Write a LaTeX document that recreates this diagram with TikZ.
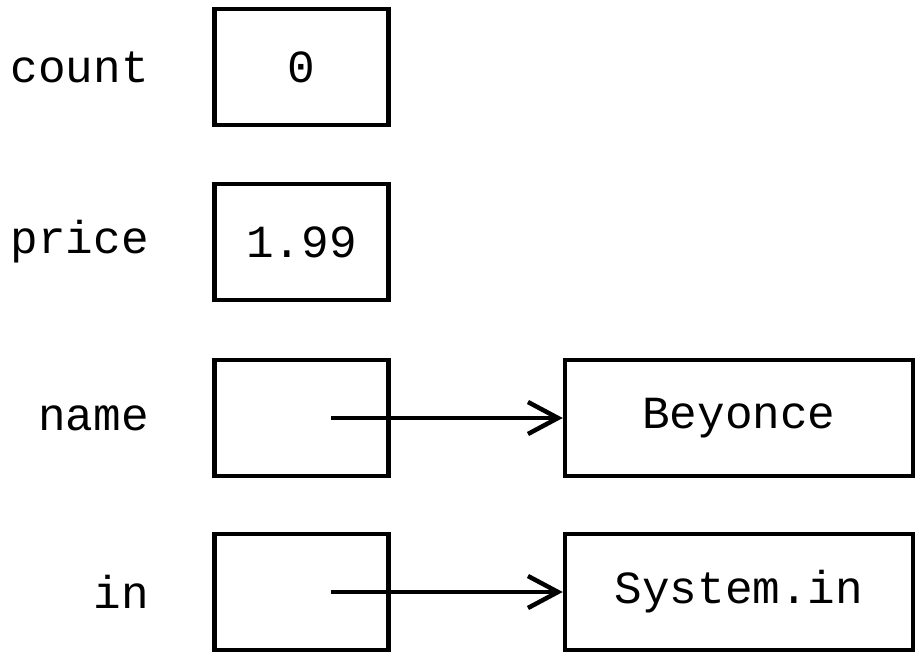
\documentclass[tikz,border=0pt]{standalone}
\usepackage{fontspec}
\setmonofont{Liberation Mono}
\usetikzlibrary{arrows.meta}
\tikzset{
  varbox/.style={draw=black, line width=4.5pt, minimum width=174pt, minimum height=116pt, inner sep=0pt, font=\ttfamily\fontsize{46}{52}\selectfont},
  objbox/.style={varbox, minimum width=348pt},
  varlabel/.style={anchor=east, inner sep=0pt, font=\ttfamily\fontsize{46}{52}\selectfont},
  ref/.style={line width=4.5pt, -{Straight Barb[length=30pt, width=32pt, line width=4.5pt]}}
}
\begin{document}
\begin{tikzpicture}[x=1pt, y=-1pt]
\useasboundingbox (0,0) rectangle (918,653);
\node[varlabel] (lcount) at (149,67) {count};
\node[varlabel] (lprice) at (149,242) {price};
\node[varlabel] (lname) at (149,418) {name};
\node[varlabel] (lin) at (149,592) {in};
\node[varbox] (count) at (301.5,67) {0};
\node[varbox] (price) at (301.5,242) {1.99};
\node[varbox] (name) at (301.5,418) {};
\node[varbox] (in) at (301.5,592) {};
\node[objbox] (beyonce) at (739,418) {Beyonce};
\node[objbox] (sysin) at (739,592) {System.in};
\coordinate (nameptr) at (331,418);
\coordinate (inptr) at (331,592);
\draw[ref] (nameptr) -- (beyonce.west);
\draw[ref] (inptr) -- (sysin.west);
\end{tikzpicture}
\end{document}
